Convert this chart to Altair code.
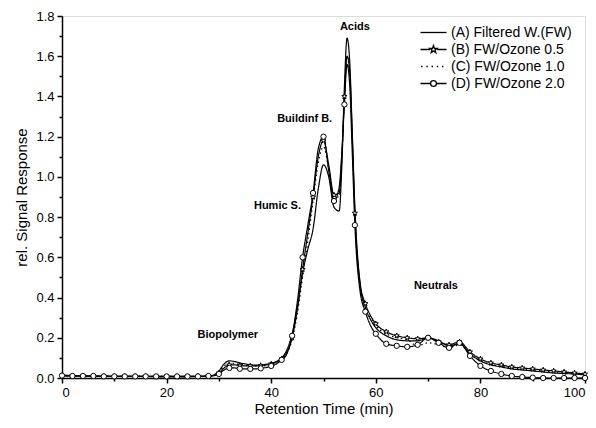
import altair as alt
import pandas as pd

# ---------------- data ----------------
times = [0, 2, 4, 6, 8, 10, 12, 14, 16, 18, 20, 22, 24, 26, 28,
         29, 30, 31, 32, 33, 34, 35, 36, 37, 38, 39, 40, 41, 42, 43, 44, 45, 46, 47, 48, 49, 50, 51, 52, 53,
         53.5, 54, 54.5, 55, 55.5, 56, 57, 58, 59, 60,
         62, 64, 66, 68, 70, 72, 74, 76, 78, 80, 82, 84, 86, 88, 90, 92, 94, 96, 98, 100]

series_a = [0.015, 0.012, 0.010, 0.010, 0.010, 0.008, 0.008, 0.008, 0.008, 0.008, 0.008, 0.008, 0.008, 0.008, 0.010,
            0.015, 0.035, 0.070, 0.085, 0.082, 0.075, 0.070, 0.066, 0.064, 0.064, 0.068, 0.074, 0.082, 0.100, 0.140,
            0.220, 0.350, 0.520, 0.640, 0.740, 0.940, 1.060, 1.000, 0.850, 0.830,
            1.050, 1.450, 1.690, 1.580, 1.220, 0.850, 0.470, 0.350, 0.290, 0.250,
            0.210, 0.190, 0.185, 0.185, 0.200, 0.185, 0.160, 0.170, 0.120, 0.085, 0.065, 0.055, 0.045, 0.040, 0.035,
            0.030, 0.025, 0.022, 0.020, 0.015]

series_b = [0.012, 0.010, 0.010, 0.008, 0.008, 0.008, 0.008, 0.008, 0.008, 0.006, 0.006, 0.006, 0.006, 0.008, 0.010,
            0.012, 0.025, 0.050, 0.065, 0.065, 0.062, 0.060, 0.060, 0.060, 0.062, 0.065, 0.070, 0.080, 0.095, 0.130,
            0.200, 0.340, 0.540, 0.720, 0.900, 1.100, 1.180, 1.060, 0.910, 0.920,
            1.100, 1.400, 1.600, 1.530, 1.200, 0.820, 0.470, 0.370, 0.310, 0.270,
            0.230, 0.210, 0.200, 0.195, 0.200, 0.180, 0.165, 0.180, 0.130, 0.095, 0.075, 0.065, 0.055, 0.050, 0.045,
            0.040, 0.035, 0.030, 0.025, 0.020]

series_c = [0.012, 0.010, 0.010, 0.010, 0.008, 0.008, 0.008, 0.008, 0.008, 0.008, 0.008, 0.008, 0.008, 0.008, 0.010,
            0.012, 0.030, 0.060, 0.075, 0.072, 0.068, 0.064, 0.062, 0.060, 0.060, 0.062, 0.068, 0.078, 0.092, 0.125,
            0.190, 0.320, 0.500, 0.680, 0.880, 1.070, 1.150, 1.040, 0.900, 0.900,
            1.080, 1.400, 1.600, 1.500, 1.180, 0.800, 0.460, 0.350, 0.300, 0.260,
            0.220, 0.200, 0.190, 0.160, 0.175, 0.165, 0.150, 0.165, 0.120, 0.085, 0.068, 0.058, 0.050, 0.045, 0.040,
            0.035, 0.030, 0.026, 0.022, 0.018]

series_d = [0.012, 0.010, 0.010, 0.010, 0.008, 0.008, 0.008, 0.008, 0.008, 0.008, 0.008, 0.008, 0.008, 0.008, 0.010,
            0.012, 0.020, 0.040, 0.050, 0.050, 0.046, 0.045, 0.045, 0.045, 0.048, 0.052, 0.060, 0.070, 0.090, 0.120,
            0.210, 0.380, 0.600, 0.760, 0.920, 1.140, 1.200, 1.030, 0.880, 0.950,
            1.120, 1.360, 1.560, 1.460, 1.120, 0.760, 0.430, 0.330, 0.260, 0.220,
            0.170, 0.160, 0.155, 0.165, 0.200, 0.175, 0.150, 0.175, 0.110, 0.060, 0.035, 0.020, 0.010, 0.005, 0.002,
            0.000, 0.000, 0.000, 0.000, 0.000]

series_names = ["(A) Filtered W.(FW)", "(B) FW/Ozone 0.5", "(C) FW/Ozone 1.0", "(D) FW/Ozone 2.0"]

label_texts = ["Acids", "Buildinf B.", "Humic S.", "Biopolymer", "Neutrals"]
label_t = [56.0, 46.4, 41.2, 31.7, 71.5]
label_v = [1.745, 1.29, 0.855, 0.215, 0.458]

x_major = [0, 20, 40, 60, 80, 100]
x_minor = [10, 30, 50, 70, 90]
y_major = [0.0, 0.2, 0.4, 0.6, 0.8, 1.0, 1.2, 1.4, 1.6, 1.8]
y_minor = [0.1, 0.3, 0.5, 0.7, 0.9, 1.1, 1.3, 1.5, 1.7]

# ---------------- tables ----------------
rows = []
for name, vals in zip(series_names, [series_a, series_b, series_c, series_d]):
    for t, v in zip(times, vals):
        rows.append({"t": t, "v": v, "series": name})
df = pd.DataFrame(rows)
labels_df = pd.DataFrame({"t": label_t, "v": label_v, "text": label_texts})

FONT = "Liberation Sans"

star = ("M0,-1L0.235,-0.324L0.951,-0.309L0.380,0.124L0.588,0.809L0,0.4L-0.588,0.809"
        "L-0.380,0.124L-0.951,-0.309L-0.235,-0.324Z")
leg_a = "M-2,0H2"
leg_b = ("M-2,0H-0.55M0.55,0H2M0,-0.6L0.141,-0.194L0.571,-0.185L0.228,0.074L0.353,0.485L0,0.24"
         "L-0.353,0.485L-0.228,0.074L-0.571,-0.185L-0.141,-0.194Z")
leg_c = "M-1.9,0h0.22M-1.1,0h0.22M-0.3,0h0.22M0.5,0h0.22M1.3,0h0.22"
leg_d = "M-2,0H-0.45M0.45,0H2M-0.45,0A0.45,0.45 0 1,0 0.45,0A0.45,0.45 0 1,0 -0.45,0Z"

xscale = alt.Scale(domain=[0, 100], nice=False, zero=False)
yscale = alt.Scale(domain=[0, 1.8], nice=False)

axis_common = dict(domainColor="black", domainWidth=1.5, tickColor="black", tickWidth=1.5,
                   labelColor="black", titleColor="black", labelFont=FONT, titleFont=FONT,
                   labelFontSize=13, titleFontSize=15, titleFontWeight="normal", grid=False)

base = alt.Chart(df)

lines = base.mark_line(interpolate="monotone", color="black", strokeWidth=1.2).encode(
    x=alt.X("t:Q", scale=xscale,
            axis=alt.Axis(values=x_major, tickSize=5, labelPadding=3, title="Retention Time (min)",
                          titlePadding=2, orient="bottom", **axis_common)),
    y=alt.Y("v:Q", scale=yscale,
            axis=alt.Axis(values=y_major, format=".1f", tickSize=5, labelPadding=3,
                          title="rel. Signal Response", titlePadding=6, orient="left", **axis_common)),
    strokeDash=alt.StrokeDash("series:N", scale=alt.Scale(domain=series_names,
                              range=[[1, 0], [1, 0], [1.5, 3], [1, 0]]), legend=None),
    detail="series:N",
)

markers = base.transform_filter(
    alt.FieldOneOfPredicate(field="series", oneOf=[series_names[1], series_names[3]])
).transform_filter("datum.t % 2 == 0").mark_point(
    filled=True, fill="white", stroke="black", strokeWidth=1, opacity=1
).encode(
    x=alt.X("t:Q", scale=xscale, axis=None),
    y=alt.Y("v:Q", scale=yscale, axis=None),
    shape=alt.Shape("series:N", scale=alt.Scale(domain=[series_names[1], series_names[3]],
                    range=[star, "circle"]), legend=None),
    size=alt.Size("series:N", scale=alt.Scale(domain=[series_names[1], series_names[3]],
                  range=[30, 28]), legend=None),
)

texts = alt.Chart(labels_df).mark_text(font=FONT, fontSize=11, fontWeight="bold", color="black").encode(
    x=alt.X("t:Q", scale=xscale, axis=None),
    y=alt.Y("v:Q", scale=yscale, axis=None),
    text="text:N",
)

minor_axes = base.transform_filter("false").mark_point(opacity=0).encode(
    x=alt.X("t:Q", scale=xscale,
            axis=alt.Axis(values=x_minor, tickSize=3, labels=False, domain=False, title=None,
                          orient="bottom", tickColor="black", tickWidth=1.5, grid=False)),
    y=alt.Y("v:Q", scale=yscale,
            axis=alt.Axis(values=y_minor, tickSize=3, labels=False, domain=False, title=None,
                          orient="left", tickColor="black", tickWidth=1.5, grid=False)),
)

legend_layer = base.transform_filter("false").mark_point(color="black", strokeWidth=1.2).encode(
    x=alt.X("t:Q", scale=xscale, axis=None),
    y=alt.Y("v:Q", scale=yscale, axis=None),
    shape=alt.Shape("series:N", scale=alt.Scale(domain=series_names,
                    range=[leg_a, leg_b, leg_c, leg_d]),
                    legend=alt.Legend(title=None, orient="none", legendX=364, legendY=9,
                                      symbolSize=169, symbolStrokeWidth=1.3, symbolStrokeColor="black",
                                      symbolFillColor="transparent", symbolOpacity=1,
                                      labelFont=FONT, labelFontSize=14, labelColor="black",
                                      labelOffset=10, rowPadding=2, padding=0, labelLimit=300)),
)

chart = alt.layer(lines, markers, texts, minor_axes, legend_layer).resolve_scale(
    shape="independent", size="independent"
).resolve_axis(x="independent", y="independent").properties(
    width=523, height=362,
    padding={"left": 54, "top": 8, "right": 3, "bottom": 42},
    autosize=alt.AutoSizeParams(type="none"),
).configure_view(stroke="black", strokeWidth=1.5).configure(background="white")

chart.save("out.html", embed_options={"renderer": "svg", "actions": False})
